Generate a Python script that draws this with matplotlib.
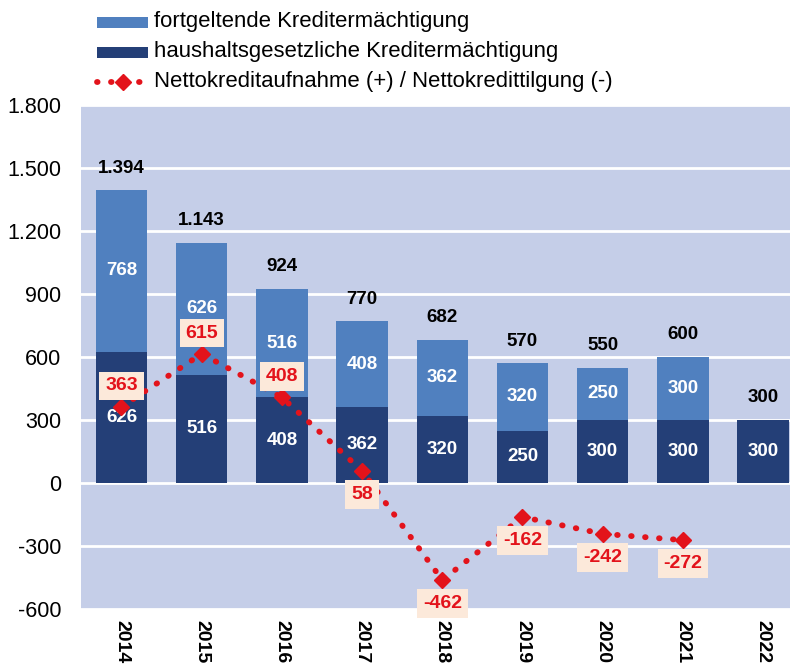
import matplotlib
matplotlib.use("Agg")
import matplotlib.pyplot as plt
from matplotlib.patches import Rectangle
from matplotlib.lines import Line2D

plt.rcParams['font.family'] = ['Liberation Sans', 'DejaVu Sans']

# Kreditermächtigungen in Mio. Euro
years = ['2014', '2015', '2016', '2017', '2018', '2019', '2020', '2021', '2022']
haushaltsgesetzlich = [626, 516, 408, 362, 320, 250, 300, 300, 300]
fortgeltend = [768, 626, 516, 408, 362, 320, 250, 300, 0]
gesamt = [1394, 1143, 924, 770, 682, 570, 550, 600, 300]
# Nettokreditaufnahme / -tilgung (2014 bis 2021)
netto = [363, 615, 408, 58, -462, -162, -242, -272]
netto_oben = [True, True, True, False, False, False, False, False]

yticks = [-600, -300, 0, 300, 600, 900, 1200, 1500, 1800]

c_light = '#5080bf'
c_dark = '#243f77'
c_bg = '#c5cee8'
c_red = '#e3131b'
c_box = '#fce9da'


def de(v):
    return f"{v:,}".replace(",", ".")


fig = plt.figure(figsize=(7.9, 6.65), dpi=100)
ax = fig.add_axes([81 / 790, 56 / 665, 709 / 790, 504 / 665])
ax.set_facecolor(c_bg)

x = list(range(len(years)))
w = 0.64
ax.bar(x, haushaltsgesetzlich, w, color=c_dark, zorder=2)
ax.bar(x, fortgeltend, w, bottom=haushaltsgesetzlich, color=c_light, zorder=2)

ax.set_ylim(-600, 1800)
ax.set_xlim(-0.505, 8.336)
ax.set_yticks(yticks)
ax.set_yticklabels([de(t) for t in yticks], fontsize=15.5)
ax.set_xticks(x)
ax.set_xticklabels(years, rotation=270, fontsize=14, fontweight='bold')
ax.tick_params(axis='both', length=0)
ax.tick_params(axis='y', pad=14)
ax.tick_params(axis='x', pad=8)
ax.grid(axis='y', color='white', linewidth=2, zorder=1)
ax.set_axisbelow(True)
for s in ax.spines.values():
    s.set_visible(False)

# Werte in den Balken
for i in x:
    ax.text(i, haushaltsgesetzlich[i] / 2, str(haushaltsgesetzlich[i]), color='white',
            fontsize=13.5, fontweight='bold', ha='center', va='center', zorder=3)
    if fortgeltend[i] > 0:
        ax.text(i, haushaltsgesetzlich[i] + fortgeltend[i] / 2, str(fortgeltend[i]),
                color='white', fontsize=13.5, fontweight='bold', ha='center',
                va='center', zorder=3)
    ax.annotate(de(gesamt[i]), (i, gesamt[i]), xytext=(0, 16), textcoords='offset points',
                ha='center', va='center', fontsize=13.5, fontweight='bold', color='black')

# Nettokreditaufnahme
xn = x[:len(netto)]
ax.plot(xn, netto, color=c_red, linestyle=(0, (0.1, 2.3)), linewidth=4.2,
        dash_capstyle='round', zorder=4)
ax.plot(xn, netto, linestyle='none', marker='D', markersize=8, color=c_red, zorder=5)
for i, v in enumerate(netto):
    dy = 15 if netto_oben[i] else -17
    ax.annotate(str(v), (i, v), xytext=(0, dy), textcoords='offset points',
                ha='center', va='center', fontsize=14, fontweight='bold', color=c_red,
                zorder=6,
                bbox=dict(boxstyle='square,pad=0.3', facecolor=c_box, edgecolor='none'))

# Legende
fs_leg = 15.9
labels = ['fortgeltende Kreditermächtigung', 'haushaltsgesetzliche Kreditermächtigung',
          'Nettokreditaufnahme (+) / Nettokredittilgung (-)']
rows = [22, 52, 82]
for yy, col in zip(rows[:2], [c_light, c_dark]):
    fig.patches.append(Rectangle((97 / 790, 1 - (yy + 5.5) / 665), 51 / 790, 11 / 665,
                                 transform=fig.transFigure, facecolor=col, edgecolor='none'))
yl = 1 - rows[2] / 665
fig.lines.append(Line2D([97 / 790, 148 / 790], [yl, yl], transform=fig.transFigure,
                        color=c_red, linestyle=(0, (0.1, 2.3)), linewidth=4.2,
                        dash_capstyle='round'))
fig.lines.append(Line2D([122.5 / 790], [yl], transform=fig.transFigure, color=c_red,
                        marker='D', markersize=8, linestyle='none'))
for yy, lab in zip(rows, labels):
    fig.text(154 / 790, 1 - yy / 665, lab, fontsize=fs_leg, va='center', ha='left')

fig.savefig('out.png', dpi=100)
